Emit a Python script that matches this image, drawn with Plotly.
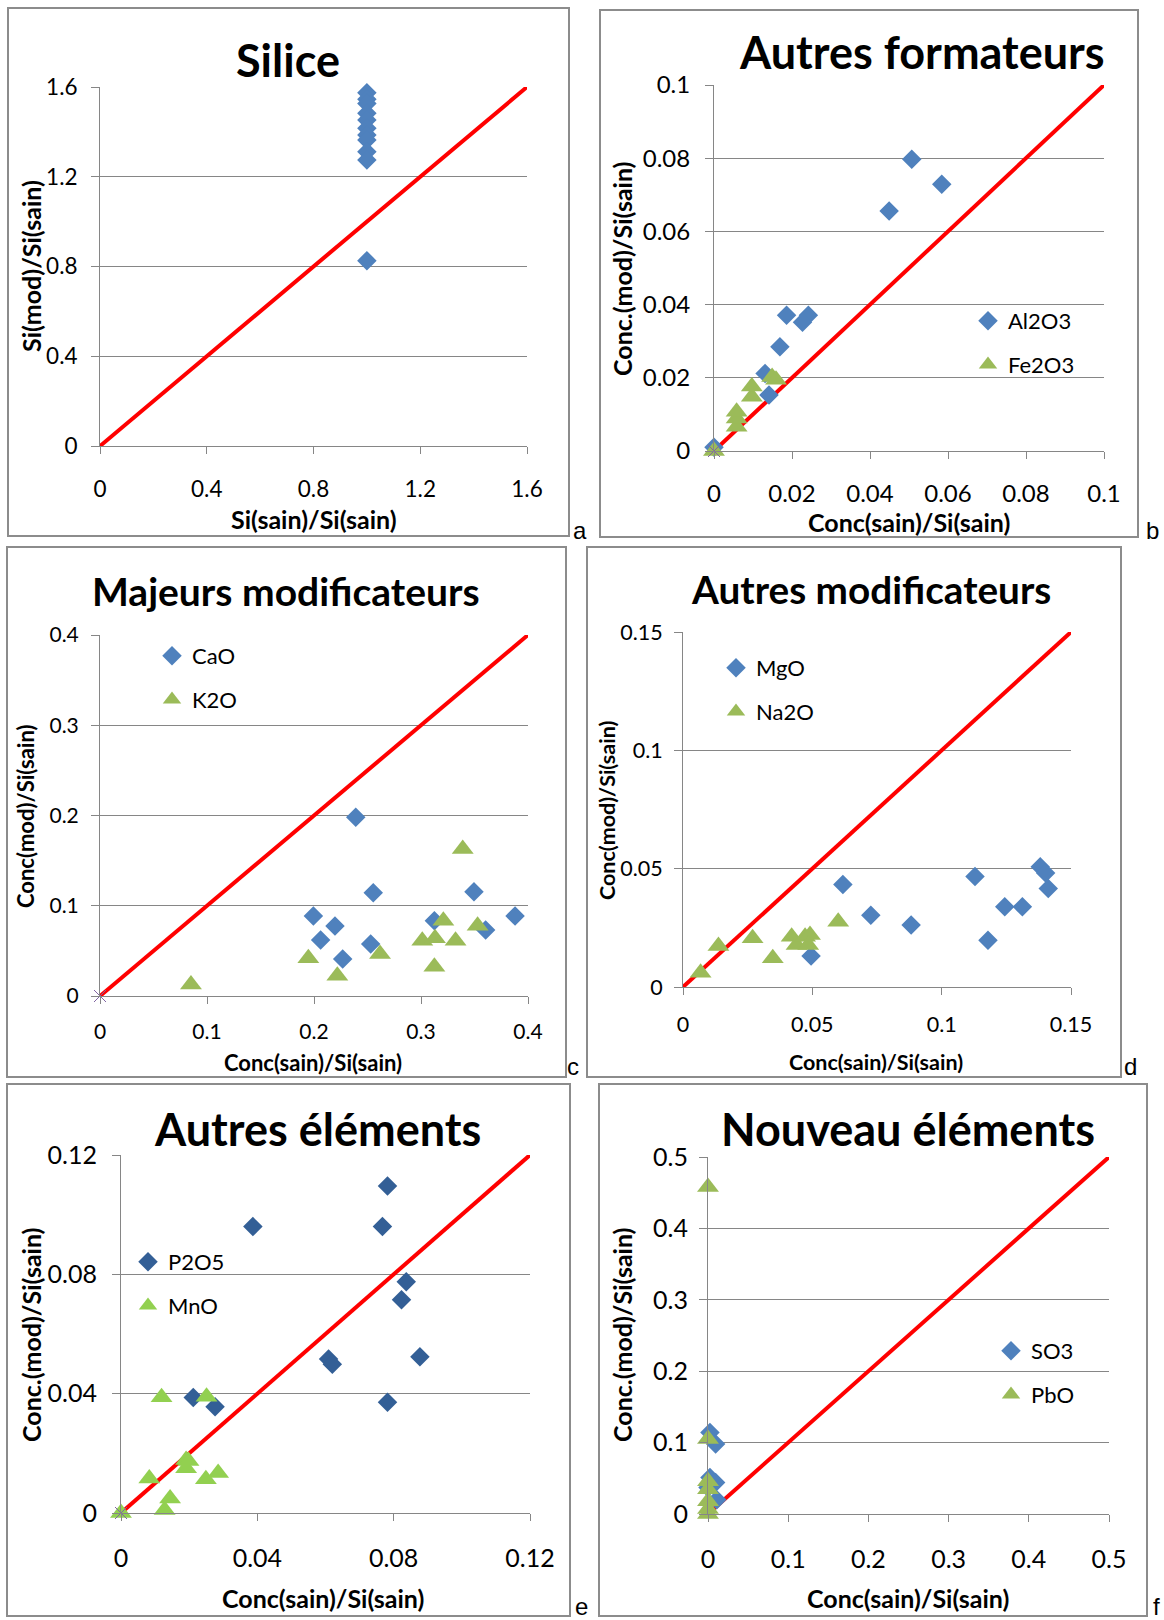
import plotly.graph_objects as go

# page geometry: the figure fills the whole 1164x1620 page
# (the default 8px body margin is removed after the plot is drawn)
PAGE_W, PAGE_H = 1164, 1620
OFF = 0
W, H = PAGE_W, PAGE_H

# ---------------- data ----------------
# (a) Silice
si_x = [1.0, 1.0, 1.0, 1.0, 1.0, 1.0, 1.0, 1.0, 1.0, 1.0, 1.0]
si_y = [1.574, 1.545, 1.527, 1.483, 1.453, 1.416, 1.386, 1.364, 1.311, 1.275, 0.826]

# (b) Autres formateurs
al2o3_x = [0.0507, 0.0584, 0.0449, 0.0186, 0.0242, 0.0227, 0.0169, 0.0131, 0.0141, 0.0]
al2o3_y = [0.0797, 0.0729, 0.0656, 0.0371, 0.0371, 0.0352, 0.0285, 0.0212, 0.0153, 0.001]
fe2o3_x = [0.0, 0.0058, 0.0058, 0.0058, 0.0097, 0.0097, 0.0149, 0.0159]
fe2o3_y = [0.0, 0.0066, 0.0089, 0.0107, 0.0148, 0.0176, 0.0202, 0.0195]

# (c) Majeurs modificateurs
cao_x = [0.239, 0.2554, 0.3495, 0.1994, 0.3879, 0.2196, 0.3125, 0.2062, 0.253, 0.2268, 0.3604]
cao_y = [0.198, 0.1145, 0.1156, 0.0886, 0.0886, 0.0776, 0.0835, 0.062, 0.0576, 0.041, 0.0731]
k2o_x = [0.085, 0.1947, 0.2218, 0.2617, 0.3012, 0.3131, 0.3209, 0.3323, 0.3125, 0.3529, 0.339]
k2o_y = [0.0127, 0.0418, 0.0225, 0.0465, 0.0613, 0.0639, 0.0835, 0.0613, 0.0325, 0.0779, 0.163]

# (d) Autres modificateurs
mgo_x = [0.0495, 0.0618, 0.0726, 0.0882, 0.1129, 0.1179, 0.1244, 0.1312, 0.1381, 0.1402, 0.1412]
mgo_y = [0.0131, 0.0433, 0.0303, 0.0262, 0.0467, 0.0198, 0.0339, 0.0339, 0.0508, 0.0482, 0.0416]
na2o_x = [0.0068, 0.0137, 0.0269, 0.0347, 0.0420, 0.0439, 0.0472, 0.0491, 0.0484, 0.0600]
na2o_y = [0.006, 0.0173, 0.0206, 0.0121, 0.0212, 0.0177, 0.0212, 0.0220, 0.0177, 0.0276]

# (e) Autres éléments
p2o5_x = [0.0782, 0.0387, 0.0767, 0.0837, 0.0823, 0.0609, 0.0620, 0.0877, 0.0782, 0.0212, 0.0276]
p2o5_y = [0.1096, 0.096, 0.096, 0.0775, 0.0715, 0.0516, 0.0499, 0.0524, 0.0371, 0.0387, 0.0356]
mno_x = [0.0, 0.0083, 0.0119, 0.0128, 0.0144, 0.0191, 0.0191, 0.0198, 0.0249, 0.0251, 0.0285]
mno_y = [0.0, 0.0116, 0.0388, 0.001, 0.0049, 0.0178, 0.0150, 0.0174, 0.0113, 0.039, 0.0134]

# (f) Nouveau éléments
so3_x = [0.0024, 0.0095, 0.0024, 0.0095, 0.0, 0.011]
so3_y = [0.114, 0.098, 0.051, 0.044, 0.037, 0.020]
pbo_x = [0.0, 0.0, 0.0, 0.0, 0.0, 0.0, 0.0]
pbo_y = [0.458, 0.105, 0.046, 0.0345, 0.018, 0.007, 0.0]

# third (empty) series shown as a small cross at the origin
origin_x = [0.0]
origin_y = [0.0]

# tick labels
ticks_a = ["0", "0.4", "0.8", "1.2", "1.6"]
ticks_b = ["0", "0.02", "0.04", "0.06", "0.08", "0.1"]
ticks_c = ["0", "0.1", "0.2", "0.3", "0.4"]
ticks_d = ["0", "0.05", "0.1", "0.15"]
ticks_e = ["0", "0.04", "0.08", "0.12"]
ticks_f = ["0", "0.1", "0.2", "0.3", "0.4", "0.5"]

# ---------------- style ----------------
BLUE = "#4F81BD"
DBLUE = "#335F96"
GREEN = "#9BBB59"
LGREEN = "#92D050"
PURPLE = "#8064A2"
GRID = "#868686"
FONT = "Lato"

panels = [
    dict(key="a", title="Silice", tsize=45, tpos=(288, 60), ticks=ticks_a,
         xpx=(100, 527), ypx=(87, 446), box=(8, 8, 569, 536), letter=(580, 530),
         tick_font=22.5, xstand=16, ystand=9, atsize=25,
         xt="Si(sain)/Si(sain)", xtpos=(314, 519), yt="Si(mod)/Si(sain)", ytpos=(31, 266),
         series=[("Silice", si_x, si_y, "diamond", BLUE)], origin=False, legend=None),
    dict(key="b", title="Autres formateurs", tsize=45, tpos=(922, 52), ticks=ticks_b,
         xpx=(714, 1104), ypx=(85, 451), box=(600, 10, 1138, 537), letter=(1152, 530),
         tick_font=24, xstand=14, ystand=10, atsize=25,
         xt="Conc(sain)/Si(sain)", xtpos=(909, 522), yt="Conc.(mod)/Si(sain)", ytpos=(622, 269),
         series=[("Al2O3", al2o3_x, al2o3_y, "diamond", BLUE),
                 ("Fe2O3", fe2o3_x, fe2o3_y, "triangle-up", GREEN)],
         origin=True, legend=(968, 300)),
    dict(key="c", title="Majeurs modificateurs", tsize=39, tpos=(286, 591), ticks=ticks_c,
         xpx=(100, 528), ypx=(635, 996), box=(7, 547, 566, 1077), letter=(573, 1066),
         tick_font=21, xstand=10, ystand=8, atsize=22,
         xt="Conc(sain)/Si(sain)", xtpos=(313, 1062), yt="Conc(mod)/Si(sain)", ytpos=(26, 816),
         series=[("CaO", cao_x, cao_y, "diamond", BLUE),
                 ("K2O", k2o_x, k2o_y, "triangle-up", GREEN)],
         origin=True, legend=(152, 635)),
    dict(key="d", title="Autres modificateurs", tsize=38.7, tpos=(871, 589), ticks=ticks_d,
         xpx=(683, 1071), ypx=(632, 987), box=(587, 547, 1121, 1077), letter=(1130, 1066),
         tick_font=21.5, xstand=11, ystand=7, atsize=21.5,
         xt="Conc(sain)/Si(sain)", xtpos=(876, 1062), yt="Conc(mod)/Si(sain)", ytpos=(607, 811),
         series=[("MgO", mgo_x, mgo_y, "diamond", BLUE),
                 ("Na2O", na2o_x, na2o_y, "triangle-up", GREEN)],
         origin=False, legend=(716, 647)),
    dict(key="e", title="Autres éléments", tsize=45, tpos=(317, 1129), ticks=ticks_e,
         xpx=(121, 530), ypx=(1155, 1513), box=(7, 1084, 570, 1616), letter=(581, 1606),
         tick_font=25, xstand=16, ystand=10, atsize=25,
         xt="Conc(sain)/Si(sain)", xtpos=(323, 1598), yt="Conc.(mod)/Si(sain)", ytpos=(31, 1335),
         series=[("P2O5", p2o5_x, p2o5_y, "diamond", DBLUE),
                 ("MnO", mno_x, mno_y, "triangle-up", LGREEN)],
         origin=True, legend=(128, 1241)),
    dict(key="f", title="Nouveau éléments", tsize=45, tpos=(908, 1129), ticks=ticks_f,
         xpx=(708, 1109), ypx=(1157, 1514), box=(599, 1084, 1147, 1616), letter=(1156, 1606),
         tick_font=25, xstand=16, ystand=6, atsize=25,
         xt="Conc(sain)/Si(sain)", xtpos=(908, 1598), yt="Conc.(mod)/Si(sain)", ytpos=(622, 1335),
         series=[("SO3", so3_x, so3_y, "diamond", BLUE),
                 ("PbO", pbo_x, pbo_y, "triangle-up", GREEN)],
         origin=False, legend=(991, 1330)),
]


def px(x):
    return (x - OFF) / W


def py(y):
    return 1 - (y - OFF) / H


fig = go.Figure()
annotations = []
shapes = []
layout_axes = {}
legend_idx = 0

for i, p in enumerate(panels):
    n = i + 1
    xname = "x" if n == 1 else f"x{n}"
    yname = "y" if n == 1 else f"y{n}"
    xl = "xaxis" if n == 1 else f"xaxis{n}"
    yl = "yaxis" if n == 1 else f"yaxis{n}"
    tickvals = [float(t) for t in p["ticks"]]
    vmax = tickvals[-1]
    rng = [0, vmax]

    axis_common = dict(
        range=rng, tickvals=tickvals, ticktext=p["ticks"],
        showline=True, linecolor=GRID, linewidth=1,
        ticks="outside", tickcolor=GRID, tickwidth=1,
        tickfont=dict(family=FONT, size=p["tick_font"], color="#000"),
        zeroline=False, fixedrange=True, automargin=False,
    )
    layout_axes[xl] = dict(axis_common, domain=[px(p["xpx"][0]), px(p["xpx"][1])],
                           anchor=yname, showgrid=False, ticklen=7,
                           ticklabelstandoff=int(p["xstand"]))
    layout_axes[yl] = dict(axis_common, domain=[py(p["ypx"][1]), py(p["ypx"][0])],
                           anchor=xname, showgrid=True, gridcolor=GRID, gridwidth=1,
                           ticklen=8, ticklabelstandoff=int(p["ystand"]))

    # 1:1 reference line drawn from the axis range
    fig.add_trace(go.Scatter(x=rng, y=rng, mode="lines", xaxis=xname, yaxis=yname,
                             line=dict(color="#FF0000", width=4), showlegend=False,
                             hoverinfo="skip"))

    if p["legend"] is not None:
        legend_idx += 1
        lname = "legend" if legend_idx == 1 else f"legend{legend_idx}"
    else:
        lname = None

    for j, (name, xs, ys, sym, col) in enumerate(p["series"]):
        size = 15 if sym == "diamond" else 19
        fig.add_trace(go.Scatter(
            x=xs, y=ys, mode="markers", name=name, xaxis=xname, yaxis=yname,
            marker=dict(symbol=sym, size=size, color=col, line=dict(width=0)),
            cliponaxis=False, showlegend=lname is not None,
            legend=lname if lname else "legend", legendgroup=f"{p['key']}{j}",
        ))
    if p["origin"]:
        fig.add_trace(go.Scatter(
            x=origin_x, y=origin_y, mode="markers", xaxis=xname, yaxis=yname,
            marker=dict(symbol="x-thin", size=12, line=dict(color=PURPLE, width=1)),
            cliponaxis=False, showlegend=False,
        ))

    if lname:
        layout_axes[lname] = dict(
            x=px(p["legend"][0]), y=py(p["legend"][1]), xanchor="left", yanchor="top",
            bgcolor="rgba(0,0,0,0)", borderwidth=0, itemsizing="trace",
            font=dict(family=FONT, size=22, color="#000"),
            traceorder="grouped", tracegroupgap=12,
        )

    # panel title
    annotations.append(dict(text=p["title"], x=px(p["tpos"][0]), y=py(p["tpos"][1]),
                            xref="paper", yref="paper", showarrow=False,
                            xanchor="center", yanchor="middle",
                            font=dict(family=FONT, size=p["tsize"], color="#000",
                                      weight="bold")))
    # axis titles
    annotations.append(dict(text=p["xt"], x=px(p["xtpos"][0]), y=py(p["xtpos"][1]),
                            xref="paper", yref="paper", showarrow=False,
                            xanchor="center", yanchor="middle",
                            font=dict(family=FONT, size=p["atsize"], color="#000",
                                      weight="bold")))
    annotations.append(dict(text=p["yt"], x=px(p["ytpos"][0]), y=py(p["ytpos"][1]),
                            xref="paper", yref="paper", showarrow=False, textangle=-90,
                            xanchor="center", yanchor="middle",
                            font=dict(family=FONT, size=p["atsize"], color="#000",
                                      weight="bold")))
    # panel letter
    annotations.append(dict(text=p["key"], x=px(p["letter"][0]), y=py(p["letter"][1]),
                            xref="paper", yref="paper", showarrow=False,
                            xanchor="center", yanchor="middle",
                            font=dict(family="Liberation Sans", size=24, color="#000")))
    # panel frame
    x0, y0, x1, y1 = p["box"]
    y1 = min(y1, PAGE_H - 2)
    shapes.append(dict(type="rect", xref="paper", yref="paper",
                       x0=px(x0), x1=px(x1), y0=py(y1), y1=py(y0),
                       line=dict(color="#8C8C8C", width=2), fillcolor="rgba(0,0,0,0)"))

fig.update_layout(
    width=W, height=H,
    margin=dict(l=0, r=0, t=0, b=0, pad=0, autoexpand=False),
    paper_bgcolor="white", plot_bgcolor="white",
    annotations=annotations, shapes=shapes,
    **layout_axes,
)

fig.write_html(
    "out.html",
    config={"displayModeBar": False, "staticPlot": True},
    post_script="document.body.style.margin='0px';document.body.style.overflow='hidden';",
)
